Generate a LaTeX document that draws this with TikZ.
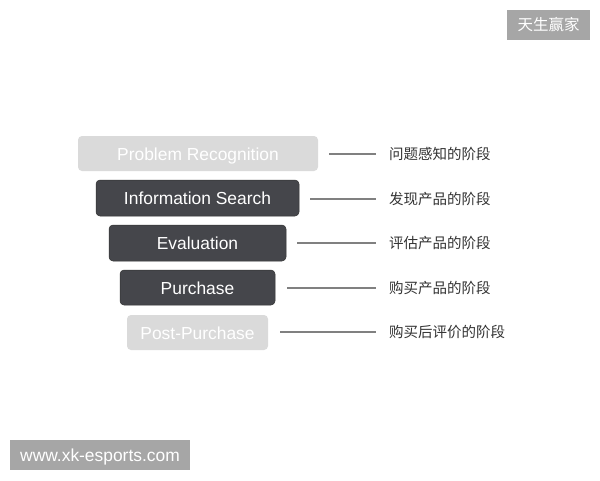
\documentclass[tikz,border=0pt]{standalone}
\usepackage{fontspec}
\setmainfont{Liberation Sans}
\newfontfamily\cjk{Noto Sans CJK SC}
\definecolor{darkbox}{HTML}{45464B}
\definecolor{lightbox}{HTML}{DADADA}
\definecolor{badge}{HTML}{A6A6A6}
\definecolor{connector}{HTML}{808080}
\definecolor{labeltext}{HTML}{333333}
\begin{document}
\begin{tikzpicture}[x=1pt,y=-1pt,
  stage/.style={rounded corners=4pt},
  darkstage/.style={stage, fill=darkbox, draw=black!80, line width=0.5pt},
  lightstage/.style={stage, fill=lightbox},
  stagetext/.style={text=white, anchor=base, inner sep=0pt, font=\fontsize{17.4}{20}\selectfont},
  link/.style={draw=connector, line width=1.3pt},
  cnlabel/.style={anchor=west, text=labeltext, font=\cjk\fontsize{14.5}{16}\selectfont, inner sep=0pt},
  badgebox/.style={fill=badge, text=white}]
\useasboundingbox (0,0) rectangle (600,480);
\fill[white] (0,0) rectangle (600,480);
% boxes
\path[lightstage] (78,136) rectangle (318,171);
\node[stagetext] (t1) at (198,160) {Problem Recognition};
\path[darkstage] (96,180) rectangle (299,216);
\node[stagetext] (t2) at (197.5,204.5) {Information Search};
\path[darkstage] (109,225) rectangle (286,261);
\node[stagetext] (t3) at (197.5,249.5) {Evaluation};
\path[darkstage] (120,270) rectangle (275,305);
\node[stagetext] (t4) at (197.5,294) {Purchase};
\path[lightstage] (127,315) rectangle (268,350);
\node[stagetext] (t5) at (197.5,339) {Post-Purchase};
% connector endpoints
\coordinate (s1) at (329,154);
\coordinate (s2) at (310,199);
\coordinate (s3) at (297,243);
\coordinate (s4) at (287,288);
\coordinate (s5) at (280,332);
\node[cnlabel] (c1) at (389,154) {问题感知的阶段};
\node[cnlabel] (c2) at (389,199) {发现产品的阶段};
\node[cnlabel] (c3) at (389,243) {评估产品的阶段};
\node[cnlabel] (c4) at (389,288) {购买产品的阶段};
\node[cnlabel] (c5) at (389,332) {购买后评价的阶段};
\foreach \i in {1,...,5} {\draw[link] (s\i) -- ([xshift=-13pt]c\i.west);}
% badges
\path[badgebox] (507,10) rectangle (590,40);
\node[text=white, font=\cjk\fontsize{15.5}{17}\selectfont] (b1) at (548.5,25) {天生赢家};
\path[badgebox] (10,440) rectangle (190,470);
\node[text=white, anchor=base, inner sep=0pt, font=\fontsize{17.4}{20}\selectfont] (b2) at (100,461) {www.xk-esports.com};
\end{tikzpicture}
\end{document}
